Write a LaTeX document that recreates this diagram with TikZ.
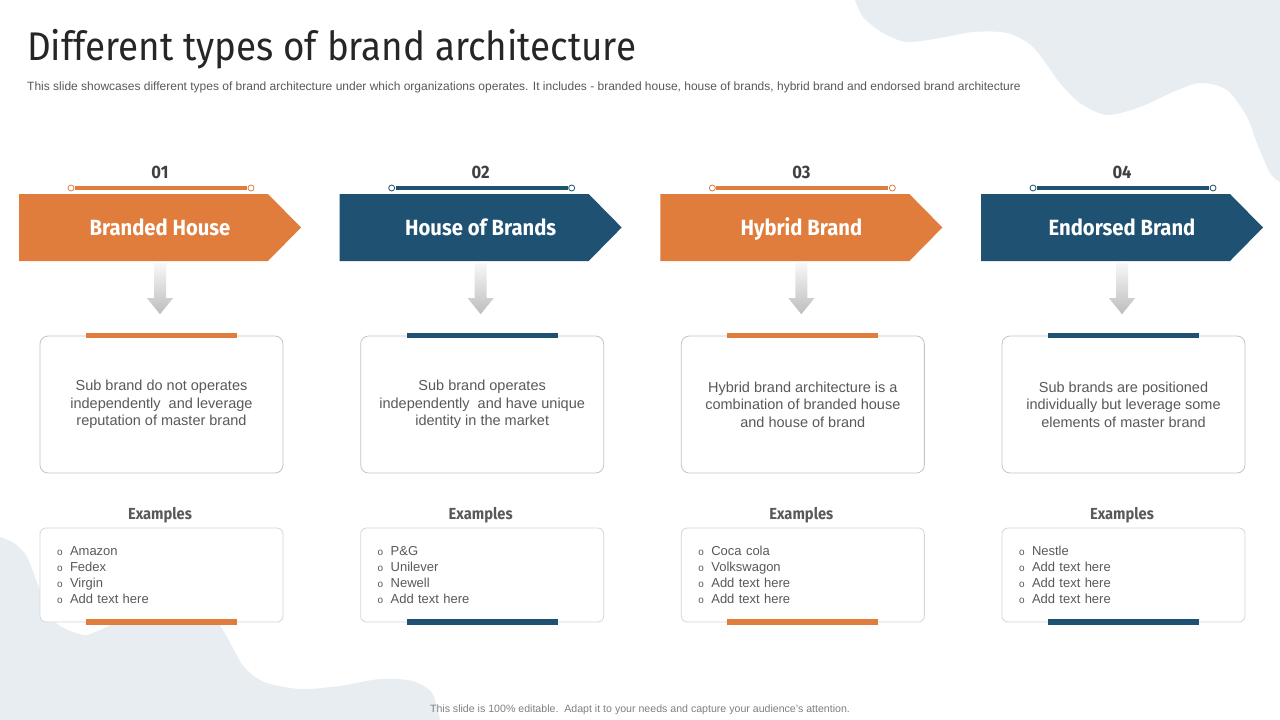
\documentclass[tikz,border=0pt]{standalone}
\usepackage{fontspec}
\setmainfont{Liberation Sans}
\newfontfamily\dinfont[FakeStretch=0.92]{Fira Sans}
\usetikzlibrary{calc}

\definecolor{brandorange}{HTML}{E07D3C}
\definecolor{brandblue}{HTML}{1F5272}
\definecolor{blobgray}{HTML}{E8EDF2}
\definecolor{textgray}{HTML}{595959}
\definecolor{titlegray}{HTML}{262626}
\definecolor{boxgray}{HTML}{C4C4C4}

\newcommand\exitem[1]{\makebox[13pt][l]{\fontsize{10}{10}\selectfont o}#1}

\tikzset{
  numlabel/.style={font=\dinfont\bfseries\fontsize{18}{18}\selectfont, text=black!75, inner sep=0pt},
  headlabel/.style={font=\dinfont\bfseries\fontsize{22}{22}\selectfont, text=white, text height=16pt, text depth=0pt, minimum width=282pt, minimum height=67pt, inner sep=0pt},
  descbox/.style={draw=boxgray, line width=0.8pt, rounded corners=8pt, fill=white, minimum width=243pt, minimum height=137pt, align=center, text=textgray, font=\fontsize{14.5}{17.5}\selectfont},
  extitle/.style={font=\dinfont\bfseries\fontsize{16}{16}\selectfont, text=textgray, inner sep=0pt},
  exbox/.style={draw=boxgray!70, line width=0.8pt, rounded corners=6pt, fill=white, minimum width=243pt, minimum height=94pt, inner xsep=17pt, text width=209pt, align=left, text=textgray, font=\fontsize{13}{16}\selectfont},
}

\begin{document}
\begin{tikzpicture}[x=1pt,y=-1pt]
\useasboundingbox (0,0) rectangle (1280,720);
\fill[white] (0,0) rectangle (1280,720);

% background waves
\fill[blobgray] plot[smooth] coordinates {(855,0) (863,17) (883,33) (907,42) (940,38) (973,32) (1007,33) (1033,47) (1060,83) (1080,103) (1107,115) (1140,107) (1173,92) (1200,83) (1227,90) (1247,117) (1257,143) (1270,173) (1280,182)} -- (1280,0) -- cycle;
\fill[blobgray] plot[smooth] coordinates {(0,537) (14,543) (27,557) (40,590) (55,622) (83,635) (100,630) (130,618) (180,612) (212,617) (224,632) (234,650) (244,667) (264,682) (300,689) (340,686) (380,679) (412,681) (432,693) (440,720)} -- (0,720) -- cycle;

\node[anchor=base west, inner sep=0pt, text=titlegray, font=\dinfont\fontsize{40}{40}\selectfont] (title) at (27,60) {Different types of brand architecture};
\node[anchor=base west, inner sep=0pt, text=textgray, font=\fontsize{12}{12}\selectfont] (subtitle) at (27,90) {This slide showcases different types of brand architecture under which organizations operates. It includes - branded house, house of brands, hybrid brand and endorsed brand architecture};

\foreach \i/\col/\head/\da/\db/\dc/\ea/\eb/\ec/\ed in {
  1/brandorange/Branded House/Sub brand do not operates/independently\ \ and leverage/reputation of master brand/Amazon/Fedex/Virgin/Add text here,
  2/brandblue/House of Brands/Sub brand operates/independently\ \ and have unique/identity in the market/P\&G/Unilever/Newell/Add text here,
  3/brandorange/Hybrid Brand/Hybrid brand architecture is a/combination of branded house/and house of brand/Coca cola/Volkswagon/Add text here/Add text here,
  4/brandblue/Endorsed Brand/Sub brands are positioned/individually but leverage some/elements of master brand/Nestle/Add text here/Add text here/Add text here}
{
  \pgfmathsetmacro\cx{160+(\i-1)*320.67}
  \node[numlabel] (num\i) at (\cx,172) {0\i};
  \draw[\col, line width=3.5pt] (\cx-85,188) -- (\cx+87,188);
  \draw[\col, fill=white, line width=0.8pt] (\cx-89,188) circle (3pt) (\cx+91,188) circle (3pt);
  \fill[\col] (\cx-141,194) -- (\cx+108,194) -- (\cx+141,227.5) -- (\cx+108,261) -- (\cx-141,261) -- cycle;
  \node[headlabel] (head\i) at (\cx,227.5) {\head};
  \node[descbox] (desc\i) at (\cx+1.5,404.5) {\da\\\db\\\dc};
  \fill[\col] ($(desc\i.north)+(-75.5,-3)$) rectangle ($(desc\i.north)+(75.5,2)$);
  % shaded arrow from heading down to the box
  \shade[top color=black!3, bottom color=black!26] ($(head\i.south)+(-6,2)$) -- ++(12,0) -- ++(0,35) -- ++(7,0) -- ($(head\i.south)+(0,53)$) -- ++(-13,-16) -- ++(7,0) -- cycle;
  \node[extitle] (extitle\i) at (\cx,515) {Examples};
  \node[exbox] (ex\i) at (\cx+1.5,575) {\exitem{\ea}\\\exitem{\eb}\\\exitem{\ec}\\\exitem{\ed}};
  \fill[\col] ($(ex\i.south)+(-75.5,-3)$) rectangle ($(ex\i.south)+(75.5,3)$);
}

\node[anchor=base, inner sep=0pt, text=black!50, font=\fontsize{10.6}{10.6}\selectfont] (footer) at (640,712) {This slide is 100\% editable.\ \ Adapt it to your needs and capture your audience's attention.};
\end{tikzpicture}
\end{document}
